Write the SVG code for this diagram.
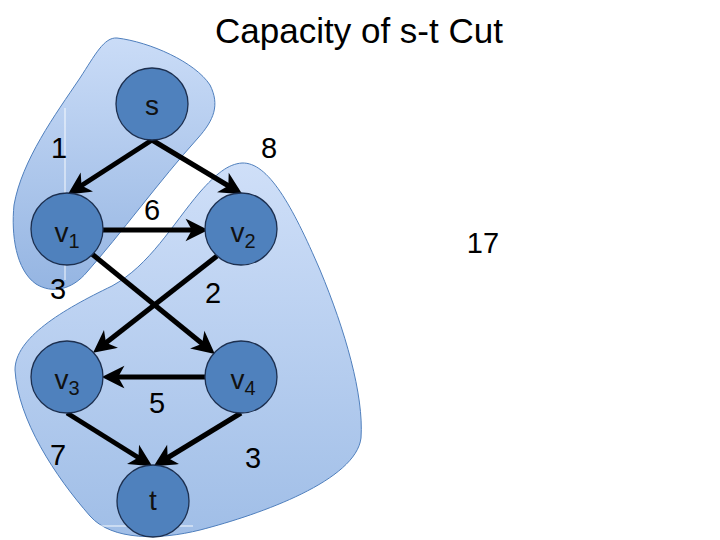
<svg xmlns="http://www.w3.org/2000/svg" width="720" height="540" viewBox="0 0 720 540">
<defs>
<linearGradient id="g1" x1="0" y1="0" x2="0" y2="1">
<stop offset="0" stop-color="#cadcf7"/>
<stop offset="1" stop-color="#95b5e2"/>
</linearGradient>
<linearGradient id="g2" x1="0" y1="0" x2="0" y2="1">
<stop offset="0" stop-color="#cfdff8"/>
<stop offset="1" stop-color="#a0bee7"/>
</linearGradient>
<marker id="arr" markerUnits="userSpaceOnUse" markerWidth="24" markerHeight="24" viewBox="0 0 24 24" refX="17" refY="12" orient="auto">
<path d="M3,3 L21,12 L3,21 L8,12 Z" fill="#000" stroke="#000" stroke-width="2" stroke-linejoin="miter"/>
</marker>
</defs>
<style>
.blob{stroke:#4f7fbd;stroke-width:1}
.node{fill:#4f81bd;stroke:#1c2f4f;stroke-width:1.3}
.nl{font-family:"Liberation Sans",Arial,sans-serif;font-size:28px;fill:#111;text-anchor:middle}
.sub{font-size:20px}
.el{font-family:"Liberation Sans",Arial,sans-serif;font-size:29px;fill:#000;text-anchor:middle}
.edge{stroke:#000;stroke-width:5;fill:none;marker-end:url(#arr)}
.art{stroke:#ffffff;stroke-width:1;fill:none;opacity:0.9}
</style>
<rect width="720" height="540" fill="#ffffff"/>
<g id="cut-s">
<path class="blob" fill="url(#g1)" d="M 117,38 C 150,42 195,62 210,85 C 220,105 214,120 198,138 C 160,180 120,235 87,272 C 72,290 52,294 36,284 C 16,270 11,235 14,205 C 22,160 55,115 80,78 C 95,55 104,37 117,38 Z"/>
</g>
<g id="cut-t">
<path class="blob" fill="url(#g2)" d="M 242,163 C 268,162 292,205 320,270 C 345,330 364,395 361,438 C 356,480 262,514 200,530 C 160,540 112,541 90,516 C 55,476 18,420 15,370 C 15,338 62,310 112,286 C 150,265 172,225 200,192 C 216,174 228,164 242,163 Z"/>
</g>
<g id="artifacts">
<line class="art" x1="65" y1="108" x2="65" y2="280"/>
<line class="art" x1="97" y1="526" x2="193" y2="526"/>
</g>
<text x="359" y="43" font-family="'Liberation Sans',Arial,sans-serif" font-size="35" fill="#000" text-anchor="middle">Capacity of s-t Cut</text>
<g id="edges">
<line class="edge" x1="152" y1="140" x2="73" y2="191"/>
<line class="edge" x1="152" y1="140" x2="237" y2="191"/>
<line class="edge" x1="103" y1="230" x2="202" y2="230"/>
<line class="edge" x1="92" y1="254" x2="210" y2="350"/>
<line class="edge" x1="217" y1="256" x2="98" y2="349"/>
<line class="edge" x1="205" y1="377" x2="108" y2="377"/>
<line class="edge" x1="67" y1="413" x2="147" y2="463"/>
<line class="edge" x1="241" y1="413" x2="159" y2="463"/>
</g>
<g id="node-s">
<circle class="node" cx="152" cy="104" r="36"/>
<text class="nl" x="152" y="115">s</text>
</g>
<g id="node-v1">
<circle class="node" cx="67" cy="229" r="36"/>
<text class="nl" x="67" y="242">v<tspan class="sub" dy="6">1</tspan></text>
</g>
<g id="node-v2">
<circle class="node" cx="241" cy="229" r="36"/>
<text class="nl" x="243" y="242">v<tspan class="sub" dy="6">2</tspan></text>
</g>
<g id="node-v3">
<circle class="node" cx="67" cy="377" r="36"/>
<text class="nl" x="67" y="389">v<tspan class="sub" dy="6">3</tspan></text>
</g>
<g id="node-v4">
<circle class="node" cx="241" cy="377" r="36"/>
<text class="nl" x="243" y="389">v<tspan class="sub" dy="6">4</tspan></text>
</g>
<g id="node-t">
<circle class="node" cx="153" cy="501" r="36"/>
<text class="nl" x="153" y="510">t</text>
</g>
<g id="labels">
<text class="el" x="59" y="158">1</text>
<text class="el" x="269" y="158">8</text>
<text class="el" x="152" y="220">6</text>
<text class="el" x="58" y="299">3</text>
<text class="el" x="213" y="303">2</text>
<text class="el" x="157" y="413">5</text>
<text class="el" x="58" y="465">7</text>
<text class="el" x="253" y="468">3</text>
<text class="el" x="483" y="253" font-size="27">17</text>
</g>
</svg>
